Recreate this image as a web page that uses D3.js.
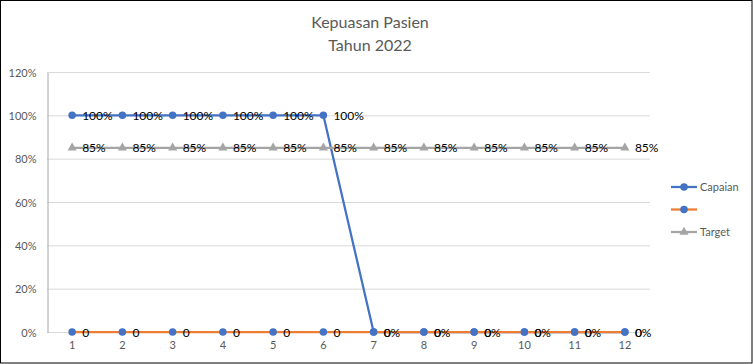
<!DOCTYPE html>
<html>
<head>
<meta charset="utf-8">
<script src="https://cdn.jsdelivr.net/npm/d3@7"></script>
<style>
  body { margin: 0; background: #fff; }
  svg { display: block; font-family: "Lato", "Liberation Sans", sans-serif; }
</style>
</head>
<body>
<div id="chart"></div>
<script>
const months = ["1", "2", "3", "4", "5", "6", "7", "8", "9", "10", "11", "12"];
const capaian = [1, 1, 1, 1, 1, 1, 0, 0, 0, 0, 0, 0];
const capaianLabels = ["100%", "100%", "100%", "100%", "100%", "100%", "0%", "0%", "0%", "0%", "0%", "0%"];
const series2 = [0, 0, 0, 0, 0, 0, 0, 0, 0, 0, 0, 0];
const series2Labels = ["0", "0", "0", "0", "0", "0", "0", "0", "0", "0", "0", "0"];
const target = [0.85, 0.85, 0.85, 0.85, 0.85, 0.85, 0.85, 0.85, 0.85, 0.85, 0.85, 0.85];
const targetLabels = ["85%", "85%", "85%", "85%", "85%", "85%", "85%", "85%", "85%", "85%", "85%", "85%"];
const yTicks = [0, 0.2, 0.4, 0.6, 0.8, 1.0, 1.2];

const W = 753, H = 364;
const plotLeft = 47, plotRight = 650, plotTop = 72, plotBottom = 332;

const svg = d3.select("#chart").append("svg")
  .attr("width", W).attr("height", H);

svg.append("rect")
  .attr("x", 0.5).attr("y", 0.5)
  .attr("width", W - 1.5).attr("height", H - 1.5)
  .attr("fill", "#fff").attr("stroke", "#000");

// title
svg.append("text").attr("x", 370).attr("y", 28)
  .attr("text-anchor", "middle").attr("fill", "#595959")
  .style("font-size", "16px").text("Kepuasan Pasien");
svg.append("text").attr("x", 370).attr("y", 51)
  .attr("text-anchor", "middle").attr("fill", "#595959")
  .style("font-size", "16px").text("Tahun 2022");

var x = d3.scaleBand().domain(months).range([plotLeft, plotRight]);
var y = d3.scaleLinear().domain([0, 1.2]).range([plotBottom, plotTop]);
var fmt = d3.format(".0%");

// gridlines
svg.selectAll(".grid").data(yTicks).enter().append("line")
  .attr("x1", plotLeft).attr("x2", plotRight)
  .attr("y1", d => y(d) + 0.5).attr("y2", d => y(d) + 0.5)
  .attr("stroke", "#d9d9d9");

// y axis
var yAxis = svg.append("g").attr("transform", "translate(" + (plotLeft + 0.5) + ",0.5)")
  .call(d3.axisLeft(y).tickValues(yTicks).tickFormat(fmt).tickSize(0).tickPadding(11));
yAxis.select(".domain").attr("stroke", "#a6a6a6");
yAxis.selectAll("text").attr("fill", "#595959")
  .style("font-size", "11px").style("font-family", "Lato, sans-serif");

// x axis labels
var xAxis = svg.append("g").attr("transform", "translate(0," + plotBottom + ")")
  .call(d3.axisBottom(x).tickSize(0).tickPadding(9));
xAxis.select(".domain").remove();
xAxis.selectAll("text").attr("fill", "#595959")
  .style("font-size", "11px").style("font-family", "Lato, sans-serif");

var cx = d => x(d) + x.bandwidth() / 2;
var line = d3.line().x((d, i) => cx(months[i])).y(d => y(d));

function drawSeries(values, color, markerColor, marker) {
  svg.append("path").datum(values)
    .attr("d", line).attr("fill", "none")
    .attr("stroke", color).attr("stroke-width", 2.25)
    .attr("stroke-linejoin", "round");
  var sym = d3.symbol().type(marker).size(marker === d3.symbolTriangle ? 36 : 44);
  svg.selectAll(null).data(values).enter().append("path")
    .attr("d", sym)
    .attr("transform", (d, i) => "translate(" + cx(months[i]) + "," + y(d) + ")")
    .attr("fill", markerColor);
}

drawSeries(capaian, "#4472c4", "#4472c4", d3.symbolCircle);
drawSeries(series2, "#ed7d31", "#4472c4", d3.symbolCircle);
drawSeries(target, "#a5a5a5", "#a5a5a5", d3.symbolTriangle);

function drawLabels(values, labels) {
  svg.selectAll(null).data(values).enter().append("text")
    .attr("x", (d, i) => cx(months[i]) + 10)
    .attr("y", d => y(d) + 4.5)
    .attr("fill", "#000")
    .style("font-size", "12px")
    .text((d, i) => labels[i]);
}
drawLabels(capaian, capaianLabels);
drawLabels(series2, series2Labels);
drawLabels(target, targetLabels);

// legend
var legend = [
  { name: "Capaian", color: "#4472c4", marker: "#4472c4", sym: d3.symbolCircle },
  { name: "", color: "#ed7d31", marker: "#4472c4", sym: d3.symbolCircle },
  { name: "Target", color: "#a5a5a5", marker: "#a5a5a5", sym: d3.symbolTriangle }
];
var lg = svg.selectAll(".lg").data(legend).enter().append("g")
  .attr("transform", (d, i) => "translate(671," + (187 + i * 22.5) + ")");
lg.append("line").attr("x1", 0).attr("x2", 26)
  .attr("stroke", d => d.color).attr("stroke-width", 2.25);
lg.append("path")
  .attr("d", d => d3.symbol().type(d.sym).size(d.sym === d3.symbolTriangle ? 36 : 44)())
  .attr("transform", "translate(13,0)")
  .attr("fill", d => d.marker);
lg.append("text").attr("x", 29).attr("y", 4)
  .attr("fill", "#595959").style("font-size", "11px")
  .text(d => d.name);
</script>
</body>
</html>
